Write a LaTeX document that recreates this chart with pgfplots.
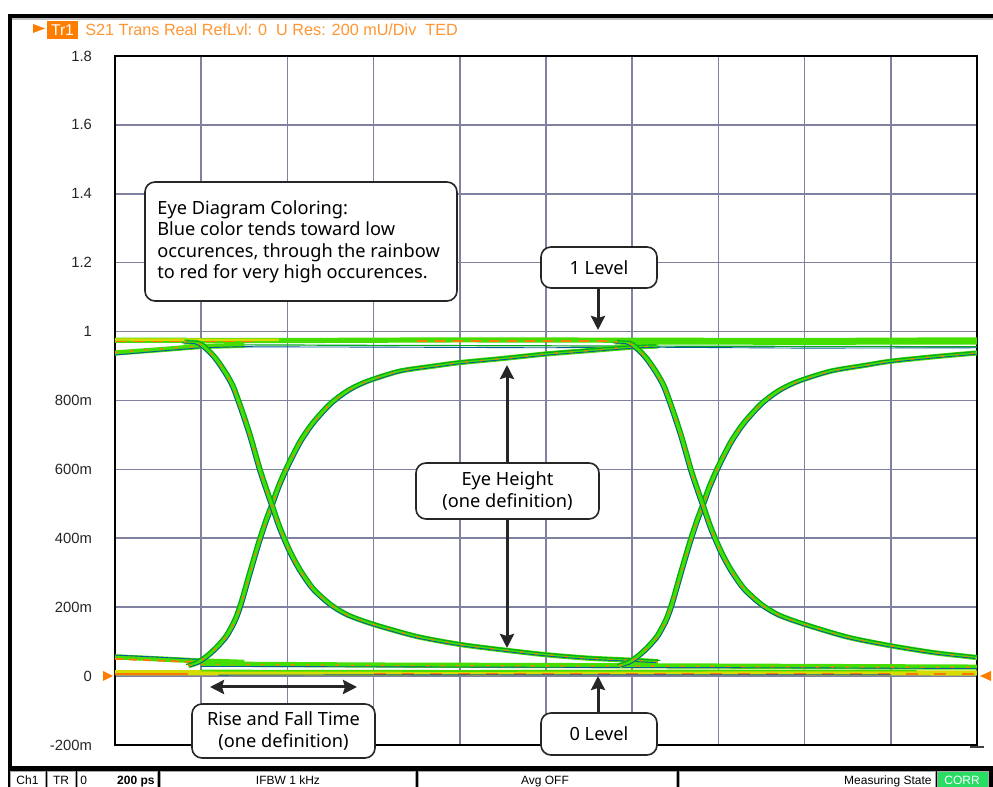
\documentclass[border=0pt]{standalone}
\usepackage{fontspec}
\setmainfont{Liberation Sans}
\newfontfamily\noto{Noto Sans}
\usepackage{pgfplots}
\pgfplotsset{compat=1.18}
\usepackage{pgfplotstable}
\usetikzlibrary{arrows.meta}

\definecolor{gridc}{RGB}{128,128,160}
\definecolor{eyelime}{RGB}{70,222,0}
\definecolor{eyegreen}{RGB}{0,170,30}
\definecolor{eyeteal}{RGB}{0,95,150}
\definecolor{eyeorange}{RGB}{255,120,0}
\definecolor{eyeyellow}{RGB}{215,220,0}
\definecolor{hdr}{RGB}{255,150,50}
\definecolor{trbox}{RGB}{255,125,0}
\definecolor{corr}{RGB}{40,220,100}

\pgfplotstableread{
x y
0.85 0.030
0.95 0.038
1.00 0.045
1.10 0.064
1.20 0.088
1.30 0.118
1.40 0.165
1.47 0.215
1.55 0.285
1.62 0.345
1.68 0.395
1.75 0.448
1.82 0.495
1.90 0.550
2.00 0.607
2.15 0.680
2.30 0.735
2.50 0.790
2.70 0.828
2.92 0.855
3.30 0.885
3.70 0.900
4.00 0.910
4.50 0.922
5.00 0.935
5.50 0.945
6.00 0.955
6.30 0.958
}\Rone

\pgfplotstableread{
x y
0.80 0.970
0.95 0.968
1.00 0.962
1.10 0.940
1.18 0.917
1.28 0.880
1.37 0.839
1.48 0.763
1.57 0.694
1.68 0.598
1.75 0.545
1.82 0.495
1.91 0.430
2.03 0.360
2.15 0.305
2.30 0.252
2.50 0.207
2.70 0.177
3.00 0.150
3.50 0.115
4.00 0.092
4.50 0.076
5.00 0.062
5.50 0.052
6.00 0.046
6.30 0.042
}\Fone

\pgfplotstableread{
x y
5.85 0.030
5.95 0.038
6.00 0.045
6.10 0.064
6.20 0.088
6.30 0.118
6.40 0.165
6.47 0.215
6.55 0.285
6.62 0.345
6.68 0.395
6.75 0.448
6.82 0.495
6.90 0.550
7.00 0.607
7.15 0.680
7.30 0.735
7.50 0.790
7.70 0.828
7.92 0.855
8.30 0.885
8.70 0.902
9.00 0.914
9.50 0.927
10.00 0.938
}\Rtwo

\pgfplotstableread{
x y
5.80 0.970
5.95 0.968
6.00 0.962
6.10 0.940
6.18 0.917
6.28 0.880
6.37 0.839
6.48 0.763
6.57 0.694
6.68 0.598
6.75 0.545
6.82 0.495
6.91 0.430
7.03 0.360
7.15 0.305
7.30 0.252
7.50 0.207
7.70 0.177
8.00 0.150
8.50 0.113
9.00 0.088
9.50 0.068
10.00 0.054
}\Ftwo

\tikzset{
  band/.style={draw=eyelime, line width=2.6pt, mark=none, line join=round},
  strandA/.style={draw=eyeteal, line width=0.45pt, mark=none},
  strandB/.style={draw=eyegreen, line width=0.6pt, mark=none},
  spk/.style={draw=eyeorange, line width=0.7pt, dash pattern=on 1.5pt off 6pt, mark=none},
  callout/.style={draw=black!85, line width=0.8pt, fill=white, rounded corners=5pt},
  calltext/.style={font=\noto\fontsize{9.1}{10.75}\selectfont, align=center, inner sep=0pt},
  arr/.style={line width=1.5pt, black!85, -{Stealth[length=7pt,width=7pt,inset=1pt]}},
  sm/.style={smooth, tension=0.45},
}

\begin{document}
\begin{tikzpicture}[x=0.5pt,y=0.5pt]
\path[use as bounding box] (0,0) rectangle (993,787);
\clip (0,0) rectangle (993,787);
\fill[white] (0,0) rectangle (993,787);
% screen frame
\fill[black] (8,769) rectangle (993,773);
\fill[black!25] (12,766.5) rectangle (993,769);
\fill[black] (8,17) rectangle (12,773);
% header
\fill[trbox] (33,754) -- (45,758.5) -- (33,763) -- cycle;
\fill[trbox] (47,748) rectangle (78,766);
\node[text=white, font=\fontsize{7.8}{8}\selectfont, inner sep=0pt] at (62.5,757) {Tr1};
\node[anchor=base west, text=hdr, font=\fontsize{8.1}{9}\selectfont, inner sep=0pt] at (85,751.5)
  {S21 Trans Real RefLvl: 0\ \ U Res: 200 mU/Div\ \ TED};

\begin{axis}[
  at={(57.5pt,21pt)}, anchor=south west,
  scale only axis, width=431pt, height=344.5pt,
  xmin=0, xmax=10, ymin=-0.2, ymax=1.8,
  xtick={0,1,...,10}, xticklabels={},
  ytick={-0.2,0,0.2,0.4,0.6,0.8,1,1.2,1.4,1.6,1.8},
  yticklabels={-200m,0,200m,400m,600m,800m,1,1.2,1.4,1.6,1.8},
  grid=major, major grid style={draw=gridc, line width=0.8pt},
  major tick length=0pt,
  axis line style={draw=black, line width=0.6pt},
  yticklabel style={font=\fontsize{7.4}{8}\selectfont, anchor=east, xshift=-8pt, text=black!85},
]
% flat top lines
\addplot[band] coordinates {(0,0.975)(2,0.974)(4,0.976)(6,0.975)(8,0.974)(10,0.976)};
\addplot[draw=eyeyellow, line width=1.2pt] coordinates {(0,0.977)(1.9,0.976)};
\addplot[draw=eyeorange, line width=0.9pt, dash pattern=on 6pt off 3pt] coordinates {(0,0.971)(1.6,0.971)};
\addplot[draw=eyeorange, line width=0.9pt, dash pattern=on 5pt off 4pt] coordinates {(3.5,0.972)(6,0.972)};
\addplot[strandB] coordinates {(1,0.962)(3,0.960)(6,0.958)(8,0.957)(10,0.956)};
\addplot[strandA] coordinates {(1,0.956)(3,0.955)(5,0.953)(6,0.955)(8,0.952)(10,0.953)};
\addplot[draw=eyelime, line width=1.2pt] coordinates {(6,0.966)(8,0.965)(10,0.966)};
% left top tail
\addplot[band] coordinates {(0,0.938)(0.5,0.947)(1.0,0.957)(1.5,0.960)};
\addplot[spk] coordinates {(0,0.940)(0.5,0.949)(1.0,0.958)};
\addplot[strandA] coordinates {(0,0.932)(0.5,0.943)(1.0,0.953)(1.6,0.957)};
% bottom flat lines
\addplot[band, draw=eyeyellow] coordinates {(0,0.010)(3,0.009)(6,0.011)(8,0.010)(10,0.009)};
\addplot[draw=eyeorange, line width=1.1pt] coordinates {(0,0.007)(0.85,0.007)};
\addplot[draw=eyelime, line width=0.9pt] coordinates {(1,0.016)(4,0.015)(7,0.016)(9.3,0.016)};
\addplot[draw=eyeorange, line width=1.1pt, dash pattern=on 6pt off 8pt] coordinates {(3,0.006)(10,0.006)};
\addplot[strandA] coordinates {(1.2,0.003)(5,0.004)(9,0.004)};
\addplot[band] coordinates {(1.0,0.035)(3,0.032)(6,0.030)(8,0.028)(10,0.026)};
\addplot[strandA] coordinates {(1.0,0.028)(3,0.027)(6,0.025)(8,0.024)(10,0.022)};
\addplot[spk] coordinates {(1.0,0.034)(3,0.031)(6,0.029)(10,0.025)};
% left bottom tail
\addplot[band] coordinates {(0,0.056)(0.5,0.050)(1.0,0.044)(1.5,0.040)};
\addplot[draw=eyeorange, line width=0.9pt, dash pattern=on 4pt off 3pt] coordinates {(0,0.050)(1.0,0.040)};
\addplot[strandA] coordinates {(0,0.061)(0.5,0.055)(1.0,0.048)};
% edges
\addplot[band, sm] table {\Rone};
\addplot[strandB, sm, xshift=-1.1pt, yshift=0.6pt] table {\Rone};
\addplot[strandA, sm, xshift=1.0pt, yshift=-0.5pt] table {\Rone};
\addplot[spk, sm] table {\Rone};
\addplot[band, sm] table {\Fone};
\addplot[strandB, sm, xshift=1.1pt, yshift=0.6pt] table {\Fone};
\addplot[strandA, sm, xshift=-1.0pt, yshift=-0.5pt] table {\Fone};
\addplot[spk, sm] table {\Fone};
\addplot[band, sm] table {\Rtwo};
\addplot[strandB, sm, xshift=-1.1pt, yshift=0.6pt] table {\Rtwo};
\addplot[strandA, sm, xshift=1.0pt, yshift=-0.5pt] table {\Rtwo};
\addplot[spk, sm] table {\Rtwo};
\addplot[band, sm] table {\Ftwo};
\addplot[strandB, sm, xshift=1.1pt, yshift=0.6pt] table {\Ftwo};
\addplot[strandA, sm, xshift=-1.0pt, yshift=-0.5pt] table {\Ftwo};
\addplot[spk, sm] table {\Ftwo};
\end{axis}

% zero-level markers
\fill[trbox] (103,106) -- (113,111) -- (103,116) -- cycle;
\fill[trbox] (991,106) -- (980,111) -- (991,116) -- cycle;
\draw[black!75, line width=0.8pt] (970,40) -- (984,40);

% callouts
\draw[callout] (145,486) rectangle (457,605);
\node[calltext, align=left, anchor=north west] at (157,587)
  {Eye Diagram Coloring:\\Blue color tends toward low\\occurences, through the rainbow\\to red for very high occurences.};
\draw[callout] (541,499) rectangle (657,540);
\node[calltext] at (599,519.5) {1 Level};
\draw[arr] (598,499) -- (598,457);
\draw[callout] (416,268) rectangle (599,324);
\node[calltext] at (507.5,296) {Eye Height\\(one definition)};
\draw[arr] (507,324) -- (507,422);
\draw[arr] (507,268) -- (507,139);
\draw[callout] (192,29) rectangle (375,83);
\node[calltext] at (283.5,56) {Rise and Fall Time\\(one definition)};
\draw[arr, {Stealth[length=7pt,width=7pt,inset=1pt]}-{Stealth[length=7pt,width=7pt,inset=1pt]}] (210,100) -- (357,100);
\draw[callout] (541,32) rectangle (657,74);
\node[calltext] at (599,53) {0 Level};
\draw[arr] (598,74) -- (598,111);

% status bar
\fill[black] (8,0) rectangle (993,21);
\foreach \a/\b in {10/45,47/75,77/157,160/415,418/676,679/935}{
  \filldraw[fill=white, draw=gray!70, line width=0.5pt] (\a,-4) rectangle (\b,15);
}
\filldraw[fill=corr, draw=gray!70, line width=0.5pt] (937,-4) rectangle (988,15);
\begin{scope}[every node/.style={font=\fontsize{6}{7}\selectfont, inner sep=0pt, anchor=base}]
\node at (27.5,2.5) {Ch1};
\node at (61,2.5) {TR};
\node[anchor=base west] at (80,2.5) {0};
\node[anchor=base east, font=\fontsize{6}{7}\bfseries] at (155,2.5) {200 ps};
\node at (288,2.5) {IFBW 1 kHz};
\node at (545,2.5) {Avg OFF};
\node[anchor=base east] at (932,2.5) {Measuring State};
\node[text=white] at (962,2.5) {CORR};
\end{scope}
\end{tikzpicture}
\end{document}
